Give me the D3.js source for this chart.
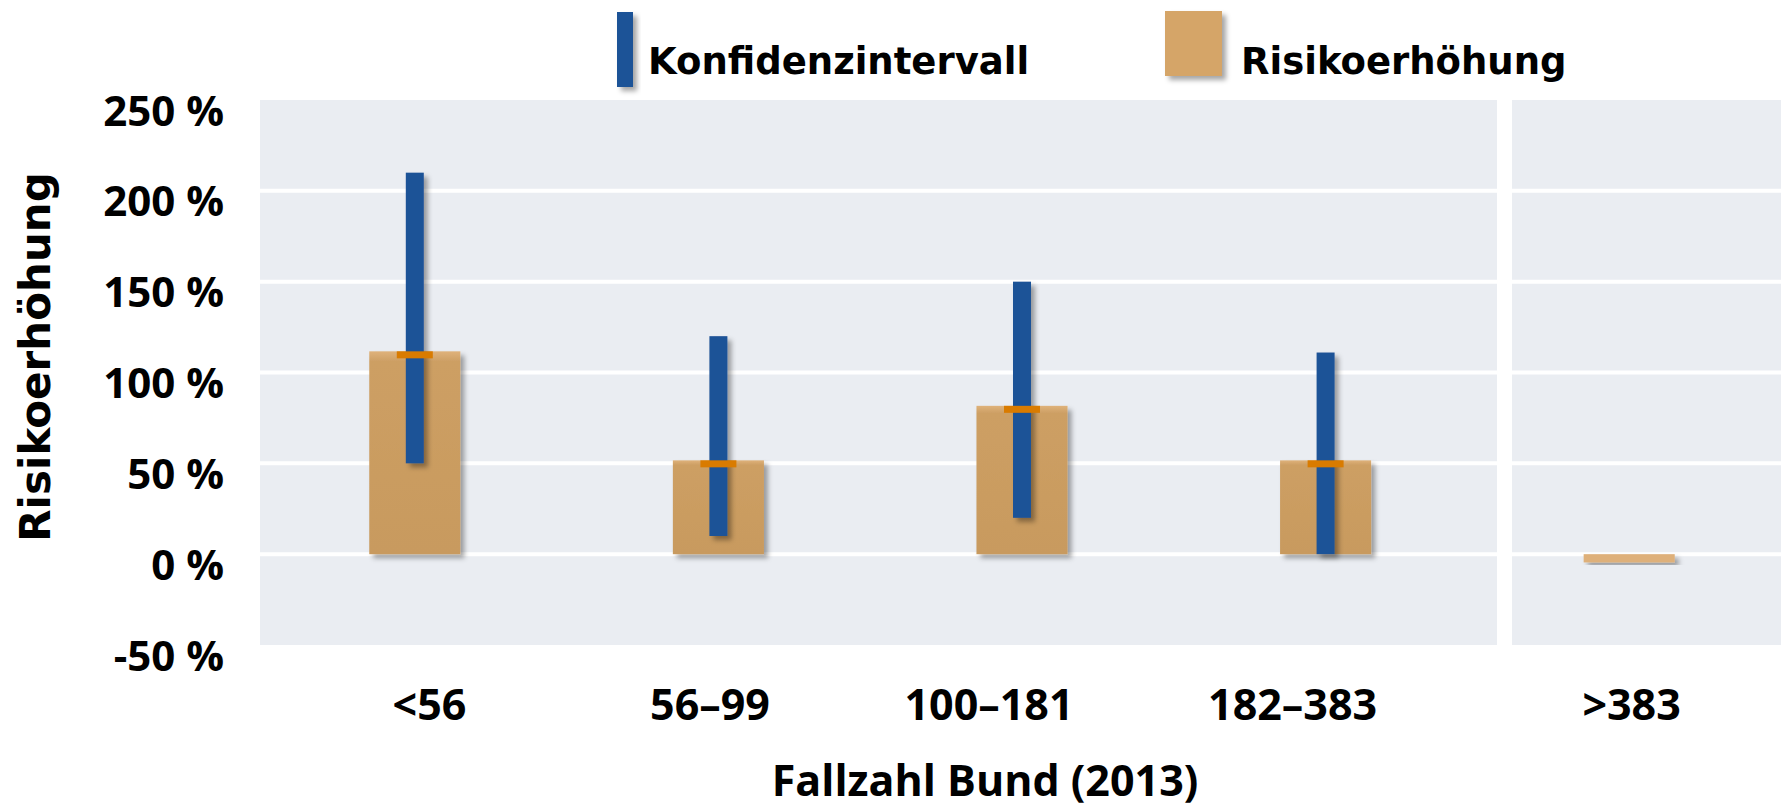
<!DOCTYPE html>
<html lang="de">
<head>
<meta charset="utf-8">
<title>Risikoerhöhung nach Fallzahl</title>
<script src="https://cdnjs.cloudflare.com/ajax/libs/d3/7.8.5/d3.min.js"></script>
<style>
  html, body { margin: 0; padding: 0; background: #fff; }
  svg { display: block; }
  .tick-label { font-family: "Open Sans", sans-serif; font-weight: 700; fill: #000; }
  .legend-label, .y-title { font-family: "DejaVu Sans", sans-serif; font-weight: 700; fill: #000; }
</style>
</head>
<body>
<div id="chart"></div>

<script>
// data
const categories = ["<56", "56–99", "100–181", "182–383", ">383"];
const risk = [110, 50, 80, 50, -4];          // Risikoerhöhung in %
const ciLow = [50, 10, 20, 0, null];         // Konfidenzintervall unten
const ciHigh = [210, 120, 150, 111, null];   // Konfidenzintervall oben
const yTicks = [-50, 0, 50, 100, 150, 200, 250];
const legendLabels = ["Konfidenzintervall", "Risikoerhöhung"];
const xTitle = "Fallzahl Bund (2013)";
const yTitle = "Risikoerhöhung";

// layout
const width = 1781;
const height = 811;
const plotLeft = 260;
const plotTop = 100;
const plotBottom = 645;
const breakX = 1497;      // where the first panel ends
const breakGap = 15;
const ciWidth = 18;
const markWidth = 36;
const markHeight = 7;

const data = categories.map((c, i) => ({
  cat: c, risk: risk[i], lo: ciLow[i], hi: ciHigh[i]
}));

const svg = d3.select("#chart")
  .append("svg")
  .attr("width", width)
  .attr("height", height);

const defs = svg.append("defs");
const shadow = defs.append("filter")
  .attr("id", "shadow")
  .attr("x", "-50%").attr("y", "-20%")
  .attr("width", "200%").attr("height", "140%");
shadow.append("feDropShadow")
  .attr("dx", 4).attr("dy", 4)
  .attr("stdDeviation", 2.5)
  .attr("flood-color", "#000")
  .attr("flood-opacity", 0.35);

const grad = defs.append("linearGradient")
  .attr("id", "barFill")
  .attr("x1", 0).attr("y1", 0).attr("x2", 0).attr("y2", 1);
grad.append("stop").attr("offset", "0").attr("stop-color", "#DFB27B");
grad.append("stop").attr("offset", "0.05").attr("stop-color", "#CD9F64");
grad.append("stop").attr("offset", "1").attr("stop-color", "#C89A5E");

// scales
const x = d3.scaleBand()
  .domain(categories)
  .range([263, width])
  .paddingInner(0.7)
  .paddingOuter(0.35);

const y = d3.scaleLinear()
  .domain([-50, 250])
  .range([plotBottom, plotTop]);

// panels (with break before last category)
const panels = [[plotLeft, breakX], [breakX + breakGap, width]];
svg.append("g")
  .selectAll("rect")
  .data(panels)
  .enter()
  .append("rect")
    .attr("x", d => d[0])
    .attr("y", plotTop)
    .attr("width", d => d[1] - d[0])
    .attr("height", plotBottom - plotTop)
    .attr("fill", "#EAEDF2");

// gridlines
const gridVals = yTicks.filter(t => t > -50 && t < 250);
panels.forEach(p => {
  svg.append("g")
    .selectAll("line")
    .data(gridVals)
    .enter()
    .append("line")
      .attr("x1", p[0])
      .attr("x2", p[1])
      .attr("y1", d => y(d))
      .attr("y2", d => y(d))
      .attr("stroke", "#fff")
      .attr("stroke-width", 4);
});

// risk bars
svg.append("g")
  .attr("class", "bars")
  .selectAll("rect")
  .data(data)
  .enter()
  .append("rect")
    .attr("x", d => x(d.cat))
    .attr("y", d => d.risk > 0 ? y(d.risk) - 3 : y(0))
    .attr("width", x.bandwidth())
    .attr("height", d => d.risk > 0 ? y(0) - y(d.risk) + 3 : y(d.risk) - y(0) + 1)
    .attr("fill", d => d.risk > 0 ? "url(#barFill)" : "#DEB07A")
    .attr("filter", "url(#shadow)");

// confidence intervals
const ciData = data.filter(d => d.lo != null);
svg.append("g")
  .attr("class", "ci")
  .selectAll("rect")
  .data(ciData)
  .enter()
  .append("rect")
    .attr("x", d => x(d.cat) + x.bandwidth() / 2 - ciWidth / 2)
    .attr("y", d => y(d.hi))
    .attr("width", ciWidth)
    .attr("height", d => y(d.lo) - y(d.hi))
    .attr("fill", "#1F5297")
    .attr("filter", "url(#shadow)");

// point estimate markers
svg.append("g")
  .attr("class", "marks")
  .selectAll("rect")
  .data(ciData)
  .enter()
  .append("rect")
    .attr("x", d => x(d.cat) + x.bandwidth() / 2 - markWidth / 2)
    .attr("y", d => y(d.risk) - 3)
    .attr("width", markWidth)
    .attr("height", markHeight)
    .attr("fill", "#D97B00");

// y axis labels
const yAxis = d3.axisLeft(y)
  .tickValues(yTicks)
  .tickSize(0)
  .tickPadding(0)
  .tickFormat(d => d + " %");

svg.append("g")
  .attr("transform", `translate(224,0)`)
  .call(yAxis)
  .call(g => g.select(".domain").remove())
  .call(g => g.selectAll("text")
    .attr("class", "tick-label")
    .attr("font-size", 42)
    .attr("dy", 25)
    .attr("text-anchor", "end"));

// x axis labels (right aligned to the bar)
svg.append("g")
  .selectAll("text")
  .data(categories)
  .enter()
  .append("text")
    .attr("class", "tick-label")
    .attr("x", d => x(d) + x.bandwidth() + 6)
    .attr("y", 720)
    .attr("text-anchor", "end")
    .attr("font-size", 43)
    .text(d => d);

// axis titles
svg.append("text")
  .attr("class", "tick-label")
  .attr("x", 985)
  .attr("y", 796)
  .attr("text-anchor", "middle")
  .attr("font-size", 43)
  .text(xTitle);

svg.append("text")
  .attr("class", "y-title")
  .attr("transform", "translate(50,357) rotate(-90)")
  .attr("text-anchor", "middle")
  .attr("font-size", 42)
  .text(yTitle);

// legend
const legend = svg.append("g").attr("class", "legend");
legend.append("rect")
  .attr("x", 617).attr("y", 12)
  .attr("width", 16).attr("height", 75)
  .attr("fill", "#1F5297")
  .attr("filter", "url(#shadow)");
legend.append("text")
  .attr("class", "legend-label")
  .attr("x", 648).attr("y", 74)
  .attr("font-size", 37)
  .text(legendLabels[0]);
legend.append("rect")
  .attr("x", 1165).attr("y", 11)
  .attr("width", 57).attr("height", 65)
  .attr("fill", "#D5A567")
  .attr("filter", "url(#shadow)");
legend.append("text")
  .attr("class", "legend-label")
  .attr("x", 1241).attr("y", 74)
  .attr("font-size", 37)
  .text(legendLabels[1]);
</script>
</body>
</html>
